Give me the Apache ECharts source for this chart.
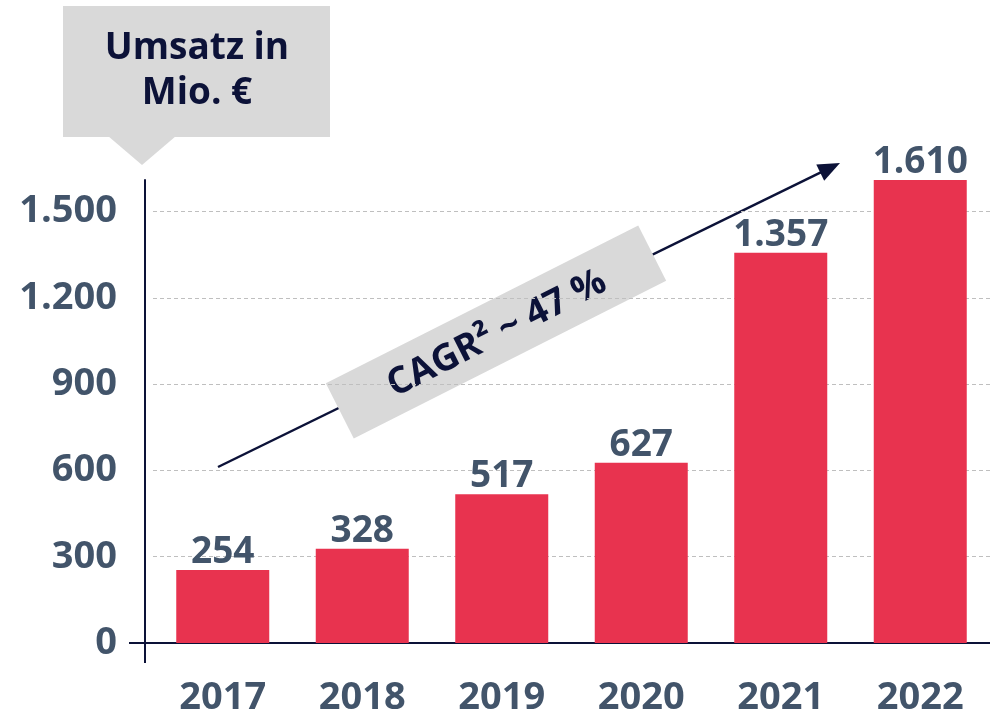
<!DOCTYPE html>
<html>
<head>
<meta charset="utf-8">
<script src="https://cdn.jsdelivr.net/npm/echarts@6/dist/echarts.min.js"></script>
<style>
  html, body { margin: 0; padding: 0; background: #fff; }
  #chart { width: 990px; height: 713px; }
</style>
</head>
<body>
<div id="chart"></div>
<script>
var years = ['2017', '2018', '2019', '2020', '2021', '2022'];
var umsatz = [254, 328, 517, 627, 1357, 1610];
var yTicks = { min: 0, max: 1610, interval: 300 };
var cagrText = 'CAGR\u00b2 ~ 47 %';

var navy = '#0c1238';
var slate = '#42546a';
var font = '"Open Sans", sans-serif';

// German thousands separator
function fmt(v) {
  return String(v).replace(/\B(?=(\d{3})+(?!\d))/g, '.');
}

var chart = echarts.init(document.getElementById('chart'));

// arrow head points
var tail = [218, 467], tip = [840, 163];
var ang = Math.atan2(tip[1] - tail[1], tip[0] - tail[0]);
function rot(dx, dy) {
  return [tip[0] + dx * Math.cos(ang) - dy * Math.sin(ang), tip[1] + dx * Math.sin(ang) + dy * Math.cos(ang)];
}
var head = [tip, rot(-22, -9), rot(-22, 9)];

var option = {
  animation: false,
  grid: { left: 153, right: 0, top: 180, bottom: 70, containLabel: false, outerBoundsMode: 'none' },
  xAxis: {
    type: 'category',
    data: years,
    axisTick: { show: false },
    axisLine: { lineStyle: { color: navy, width: 2 } },
    axisLabel: { color: slate, fontSize: 38, fontWeight: 'bold', fontFamily: font, margin: 36 }
  },
  yAxis: {
    type: 'value',
    min: yTicks.min,
    max: yTicks.max,
    interval: yTicks.interval,
    offset: 8,
    axisLine: { show: true, lineStyle: { color: navy, width: 2 } },
    axisTick: { show: false },
    splitLine: { showMaxLine: false, lineStyle: { color: '#bfbfbf', type: [4, 3], width: 1 } },
    axisLabel: {
      color: slate, fontSize: 38, fontWeight: 'bold', fontFamily: font, margin: 28,
      showMaxLabel: false,
      formatter: fmt
    }
  },
  series: [{
    type: 'bar',
    data: umsatz,
    barWidth: 93,
    itemStyle: { color: '#e8334f' },
    label: {
      show: true, position: 'top', distance: -1,
      color: slate, fontSize: 37, fontWeight: 'bold', fontFamily: font,
      formatter: function (p) { return fmt(p.value); }
    }
  }],
  graphic: [
    // axis overhangs at the origin
    { type: 'line', shape: { x1: 129, y1: 643, x2: 153, y2: 643 }, style: { stroke: navy, lineWidth: 2 } },
    { type: 'line', shape: { x1: 145, y1: 643, x2: 145, y2: 663 }, style: { stroke: navy, lineWidth: 2 } },
    // callout box
    { type: 'rect', shape: { x: 63, y: 6, width: 267, height: 131 }, style: { fill: '#d9d9d9' } },
    { type: 'polygon', shape: { points: [[108, 136], [176, 136], [142, 165]] }, style: { fill: '#d9d9d9' } },
    {
      type: 'text', x: 197, y: 71,
      style: {
        text: 'Umsatz in\nMio. \u20ac', fill: navy, font: 'bold 37px ' + font,
        align: 'center', verticalAlign: 'middle', lineHeight: 45
      }
    },
    // trend arrow
    { type: 'line', shape: { x1: tail[0], y1: tail[1], x2: rot(-18, 0)[0], y2: rot(-18, 0)[1] }, style: { stroke: navy, lineWidth: 2.5 } },
    { type: 'polygon', shape: { points: head }, style: { fill: navy } },
    // CAGR banner
    {
      type: 'group', x: 496, y: 332, rotation: 26.8 * Math.PI / 180,
      children: [
        { type: 'rect', shape: { x: -175, y: -31, width: 350, height: 62 }, style: { fill: '#d9d9d9' } },
        {
          type: 'text', x: 0, y: 2,
          style: { text: cagrText, fill: navy, font: 'bold 37px ' + font, align: 'center', verticalAlign: 'middle' }
        }
      ]
    }
  ]
};
chart.setOption(option);
</script>
</body>
</html>
